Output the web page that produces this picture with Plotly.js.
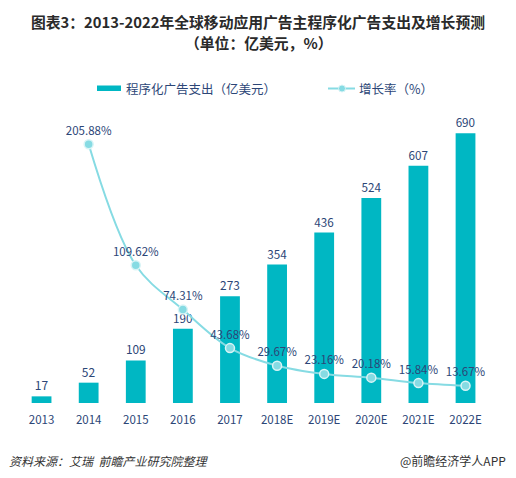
<!DOCTYPE html>
<html><head><meta charset="utf-8">
<script src="https://cdn.plot.ly/plotly-3.0.1.min.js"></script>
<style>html,body{margin:0;padding:0;background:#fff}#chart{width:516px;height:478px}</style>
</head><body><div id="chart"></div>
<script>
const years = ['2013','2014','2015','2016','2017','2018E','2019E','2020E','2021E','2022E'];
const spend = [17,52,109,190,273,354,436,524,607,690];
const growthYears = ['2014','2015','2016','2017','2018E','2019E','2020E','2021E','2022E'];
const growth = [205.88,109.62,74.31,43.68,29.67,23.16,20.18,15.84,13.67];
const spendName = '程序化广告支出（亿美元）';
const growthName = '增长率（%）';

const cjk = '"Noto Sans CJK SC", "Microsoft YaHei", sans-serif';
const blue = '#2c4677';
const barColor = '#00b7c3';
const lineColor = '#86dbe3';

const traces = [
  {type:'bar', x:years, y:spend, name:spendName, marker:{color:barColor},
   text:spend.map(String), textposition:'outside', cliponaxis:false,
   textfont:{family:cjk, size:12, color:blue}, hoverinfo:'x+y'},
  {type:'scatter', mode:'lines+markers+text', x:growthYears, y:growth, yaxis:'y2', name:growthName,
   line:{color:lineColor, width:2, shape:'spline', smoothing:1},
   marker:{color:lineColor, size:9, line:{color:'#d9f4f6', width:1.5}},
   text:growth.map(v=>v.toFixed(2)+'%'), textposition:'top center', cliponaxis:false,
   textfont:{family:cjk, size:11.5, color:blue}}
];

const L=18, R=495, T=110, B=403;
const px = v => (v-L)/(R-L);
const py = v => (B-v)/(B-T);

const layout = {
  width:516, height:478,
  margin:{l:L, r:516-R, t:T, b:478-B},
  paper_bgcolor:'#fff', plot_bgcolor:'#fff',
  showlegend:false,
  bargap:0.58,
  title:{text:'<b>图表3：2013-2022年全球移动应用广告主程序化广告支出及增长预测</b>',
    font:{family:cjk, size:14.8, color:'#2a2a2a'}, x:0.5, xref:'container', xanchor:'center',
    y:1-23/478, yref:'container', yanchor:'middle'},
  xaxis:{type:'category', showgrid:false, zeroline:false, showline:false, ticks:'', ticklabelstandoff:8,
    tickfont:{family:cjk, size:11.5, color:blue}},
  yaxis:{range:[0,(B-T)/0.391], visible:false, fixedrange:true},
  yaxis2:{range:[0,(B-T)/1.257], overlaying:'y', side:'right', visible:false},
  shapes:[
    {type:'rect', xref:'paper', yref:'paper', x0:px(97), x1:px(121), y0:py(91), y1:py(85.5), fillcolor:barColor, line:{width:0}},
    {type:'line', xref:'paper', yref:'paper', x0:px(328), x1:px(355), y0:py(88.5), y1:py(88.5), line:{color:lineColor, width:2}},
    {type:'circle', xref:'paper', yref:'paper', x0:px(338.5), x1:px(345.5), y0:py(92), y1:py(85), fillcolor:lineColor, line:{color:'#d9f4f6', width:1}}
  ],
  annotations:[
    {text:'<b>（单位：亿美元，%）</b>', xref:'paper', yref:'paper', x:px(258), y:py(43), xanchor:'center', yanchor:'middle', showarrow:false,
     font:{family:cjk, size:14.8, color:'#2a2a2a'}},
    {text:spendName, xref:'paper', yref:'paper', x:px(124), y:py(88), xanchor:'left', yanchor:'middle', showarrow:false,
     font:{family:cjk, size:12.5, color:blue}},
    {text:growthName, xref:'paper', yref:'paper', x:px(357), y:py(88), xanchor:'left', yanchor:'middle', showarrow:false,
     font:{family:cjk, size:12.5, color:blue}},
    {text:'<i>资料来源：艾瑞  前瞻产业研究院整理</i>', xref:'paper', yref:'paper', x:px(7), y:py(460), xanchor:'left', yanchor:'middle', showarrow:false,
     font:{family:cjk, size:12, color:'#333'}},
    {text:'@前瞻经济学人APP', xref:'paper', yref:'paper', x:px(508), y:py(460), xanchor:'right', yanchor:'middle', showarrow:false,
     font:{family:cjk, size:12, color:'#333'}}
  ]
};
Plotly.newPlot('chart', traces, layout, {displayModeBar:false, staticPlot:true});
</script></body></html>
